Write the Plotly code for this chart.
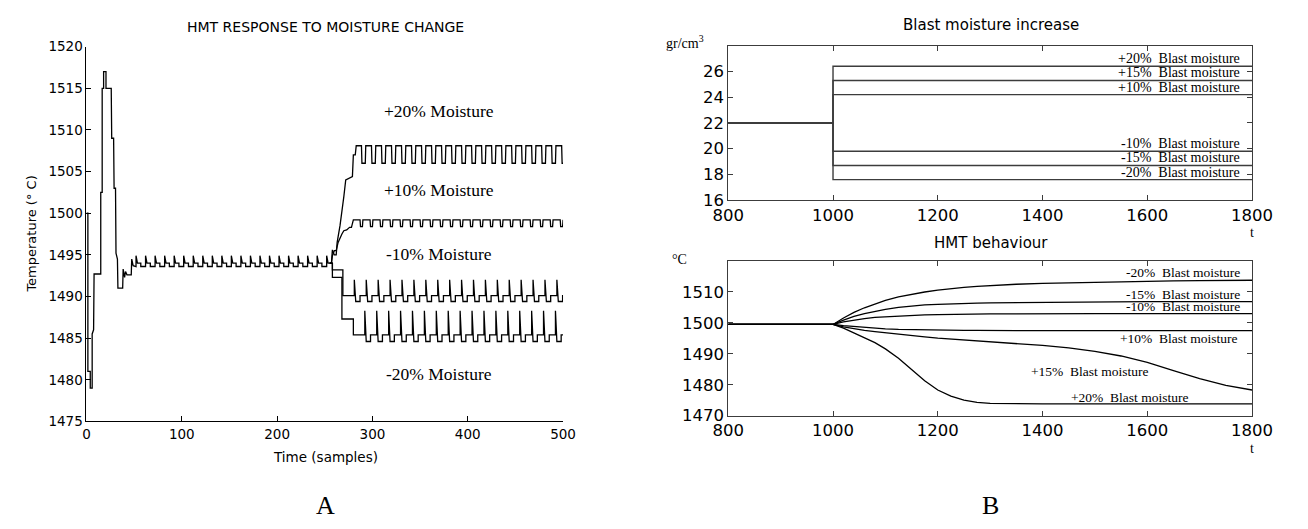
import plotly.graph_objects as go

W, H = 1308, 529

# ---------------- Panel A : HMT response to moisture change ----------------
xticks_a = [0, 100, 200, 300, 400, 500]
yticks_a = [1475, 1480, 1485, 1490, 1495, 1500, 1505, 1510, 1515, 1520]

# common response (samples 0..255)
t_base = [0, 1.5, 1.5, 4, 4, 6, 6, 7.5, 8, 15, 15, 16.5, 16.5, 18, 18, 20.5, 20.5, 26, 26.5,
          28.5, 29, 30.5, 31, 32.5, 33, 38, 38.5, 40, 41, 42.5, 47, 47.5, 49,
          52, 52, 53.5, 57, 57, 62,
          62, 63.5, 67, 67, 72,
          72, 73.5, 77, 77, 82,
          82, 83.5, 87, 87, 92,
          92, 93.5, 97, 97, 102,
          102, 103.5, 107, 107, 112,
          112, 113.5, 117, 117, 122,
          122, 123.5, 127, 127, 132,
          132, 133.5, 137, 137, 142,
          142, 143.5, 147, 147, 152,
          152, 153.5, 157, 157, 162,
          162, 163.5, 167, 167, 172,
          172, 173.5, 177, 177, 182,
          182, 183.5, 187, 187, 192,
          192, 193.5, 197, 197, 202,
          202, 203.5, 207, 207, 212,
          212, 213.5, 217, 217, 222,
          222, 223.5, 227, 227, 232,
          232, 233.5, 237, 237, 242,
          242, 243.5, 247, 247, 252,
          252, 253.5, 255]
temp_base = [1500, 1500, 1481, 1481, 1479, 1479, 1485.5, 1486, 1492.7, 1492.7, 1502.5, 1502.5, 1515, 1515, 1517, 1517, 1515, 1515, 1509,
             1509, 1503, 1503, 1495.2, 1494.5, 1491, 1491, 1493.3, 1492.3, 1493, 1492.6, 1492.6, 1494.5, 1493.7,
             1493.6, 1494.9, 1494.0, 1494.0, 1493.6, 1493.6,
             1494.9, 1494.0, 1494.0, 1493.6, 1493.6,
             1494.9, 1494.0, 1494.0, 1493.6, 1493.6,
             1494.9, 1494.0, 1494.0, 1493.6, 1493.6,
             1494.9, 1494.0, 1494.0, 1493.6, 1493.6,
             1494.9, 1494.0, 1494.0, 1493.6, 1493.6,
             1494.9, 1494.0, 1494.0, 1493.6, 1493.6,
             1494.9, 1494.0, 1494.0, 1493.6, 1493.6,
             1494.9, 1494.0, 1494.0, 1493.6, 1493.6,
             1494.9, 1494.0, 1494.0, 1493.6, 1493.6,
             1494.9, 1494.0, 1494.0, 1493.6, 1493.6,
             1494.9, 1494.0, 1494.0, 1493.6, 1493.6,
             1494.9, 1494.0, 1494.0, 1493.6, 1493.6,
             1494.9, 1494.0, 1494.0, 1493.6, 1493.6,
             1494.9, 1494.0, 1494.0, 1493.6, 1493.6,
             1494.9, 1494.0, 1494.0, 1493.6, 1493.6,
             1494.9, 1494.0, 1494.0, 1493.6, 1493.6,
             1494.9, 1494.0, 1494.0, 1493.6, 1493.6,
             1494.9, 1494.0, 1494.0, 1493.6, 1493.6,
             1494.9, 1494.0, 1494.0, 1493.6, 1493.6,
             1494.9, 1494.0, 1494.0]

# +20% moisture (from sample 255)
t_p20 = [255, 257, 258, 260, 262, 263, 266, 268, 270, 272, 278, 279, 280, 282, 283,
         288.5, 289, 292.5, 293, 299, 299.5, 303, 303.5, 309.5, 310, 313.5, 314,
         320, 320.5, 324, 324.5, 330.5, 331, 334.5, 335, 341, 341.5, 345, 345.5,
         351.5, 352, 355.5, 356, 362, 362.5, 366, 366.5, 372.5, 373, 376.5, 377,
         383, 383.5, 387, 387.5, 393.5, 394, 397.5, 398, 404, 404.5, 408, 408.5,
         414.5, 415, 418.5, 419, 425, 425.5, 429, 429.5, 435.5, 436, 439.5, 440,
         446, 446.5, 450, 450.5, 456.5, 457, 460.5, 461, 467, 467.5, 471, 471.5,
         477.5, 478, 481.5, 482, 488, 488.5, 492, 492.5, 498.5, 499, 500]
temp_p20 = [1494.0, 1494.0, 1495.6, 1495.0, 1495.0, 1496.5, 1498.5, 1500.0, 1502.0, 1504.0, 1504.4, 1504.4, 1507.0, 1507.0, 1508.1,
            1508.1, 1506.0, 1506.0, 1508.1, 1508.1, 1506.0, 1506.0, 1508.1, 1508.1, 1506.0, 1506.0, 1508.1,
            1508.1, 1506.0, 1506.0, 1508.1, 1508.1, 1506.0, 1506.0, 1508.1, 1508.1, 1506.0, 1506.0, 1508.1,
            1508.1, 1506.0, 1506.0, 1508.1, 1508.1, 1506.0, 1506.0, 1508.1, 1508.1, 1506.0, 1506.0, 1508.1,
            1508.1, 1506.0, 1506.0, 1508.1, 1508.1, 1506.0, 1506.0, 1508.1, 1508.1, 1506.0, 1506.0, 1508.1,
            1508.1, 1506.0, 1506.0, 1508.1, 1508.1, 1506.0, 1506.0, 1508.1, 1508.1, 1506.0, 1506.0, 1508.1,
            1508.1, 1506.0, 1506.0, 1508.1, 1508.1, 1506.0, 1506.0, 1508.1, 1508.1, 1506.0, 1506.0, 1508.1,
            1508.1, 1506.0, 1506.0, 1508.1, 1508.1, 1506.0, 1506.0, 1508.1, 1508.1, 1506.0, 1506.0]

# +10% moisture
t_p10 = [255, 257, 258, 260, 262, 264, 268, 270, 273, 276, 278, 280,
         287, 287.5, 289.5, 290, 297.5, 298, 300, 300.5, 308, 308.5, 310.5, 311,
         318.5, 319, 321, 321.5, 329, 329.5, 331.5, 332, 339.5, 340, 342, 342.5,
         350, 350.5, 352.5, 353, 360.5, 361, 363, 363.5, 371, 371.5, 373.5, 374,
         381.5, 382, 384, 384.5, 392, 392.5, 394.5, 395, 402.5, 403, 405, 405.5,
         413, 413.5, 415.5, 416, 423.5, 424, 426, 426.5, 434, 434.5, 436.5, 437,
         444.5, 445, 447, 447.5, 455, 455.5, 457.5, 458, 465.5, 466, 468, 468.5,
         476, 476.5, 478.5, 479, 486.5, 487, 489, 489.5, 497, 497.5, 499.5, 500]
temp_p10 = [1494.0, 1494.0, 1494.9, 1495.5, 1495.5, 1496.5, 1497.5, 1497.9, 1498.0, 1498.3, 1498.3, 1499.2,
            1499.2, 1498.4, 1498.4, 1499.2, 1499.2, 1498.4, 1498.4, 1499.2, 1499.2, 1498.4, 1498.4, 1499.2,
            1499.2, 1498.4, 1498.4, 1499.2, 1499.2, 1498.4, 1498.4, 1499.2, 1499.2, 1498.4, 1498.4, 1499.2,
            1499.2, 1498.4, 1498.4, 1499.2, 1499.2, 1498.4, 1498.4, 1499.2, 1499.2, 1498.4, 1498.4, 1499.2,
            1499.2, 1498.4, 1498.4, 1499.2, 1499.2, 1498.4, 1498.4, 1499.2, 1499.2, 1498.4, 1498.4, 1499.2,
            1499.2, 1498.4, 1498.4, 1499.2, 1499.2, 1498.4, 1498.4, 1499.2, 1499.2, 1498.4, 1498.4, 1499.2,
            1499.2, 1498.4, 1498.4, 1499.2, 1499.2, 1498.4, 1498.4, 1499.2, 1499.2, 1498.4, 1498.4, 1499.2,
            1499.2, 1498.4, 1498.4, 1499.2, 1499.2, 1498.4, 1498.4, 1499.2, 1499.2, 1498.4, 1498.4, 1499.2]

# -10% moisture
t_m10 = [255, 258, 258, 269, 269, 281,
         281, 282.5, 287, 287, 293.5, 293.5, 295, 299.5, 299.5, 306,
         306, 307.5, 312, 312, 318.5, 318.5, 320, 324.5, 324.5, 331,
         331, 332.5, 337, 337, 343.5, 343.5, 345, 349.5, 349.5, 356,
         356, 357.5, 362, 362, 368.5, 368.5, 370, 374.5, 374.5, 381,
         381, 382.5, 387, 387, 393.5, 393.5, 395, 399.5, 399.5, 406,
         406, 407.5, 412, 412, 418.5, 418.5, 420, 424.5, 424.5, 431,
         431, 432.5, 437, 437, 443.5, 443.5, 445, 449.5, 449.5, 456,
         456, 457.5, 462, 462, 468.5, 468.5, 470, 474.5, 474.5, 481,
         481, 482.5, 487, 487, 493.5, 493.5, 495, 499.5, 499.5, 500]
temp_m10 = [1494.0, 1494.0, 1493.2, 1493.2, 1490.1, 1490.1,
            1492.0, 1489.4, 1489.4, 1490.1, 1490.1, 1492.0, 1489.4, 1489.4, 1490.1, 1490.1,
            1492.0, 1489.4, 1489.4, 1490.1, 1490.1, 1492.0, 1489.4, 1489.4, 1490.1, 1490.1,
            1492.0, 1489.4, 1489.4, 1490.1, 1490.1, 1492.0, 1489.4, 1489.4, 1490.1, 1490.1,
            1492.0, 1489.4, 1489.4, 1490.1, 1490.1, 1492.0, 1489.4, 1489.4, 1490.1, 1490.1,
            1492.0, 1489.4, 1489.4, 1490.1, 1490.1, 1492.0, 1489.4, 1489.4, 1490.1, 1490.1,
            1492.0, 1489.4, 1489.4, 1490.1, 1490.1, 1492.0, 1489.4, 1489.4, 1490.1, 1490.1,
            1492.0, 1489.4, 1489.4, 1490.1, 1490.1, 1492.0, 1489.4, 1489.4, 1490.1, 1490.1,
            1492.0, 1489.4, 1489.4, 1490.1, 1490.1, 1492.0, 1489.4, 1489.4, 1490.1, 1490.1,
            1492.0, 1489.4, 1489.4, 1490.1, 1490.1, 1492.0, 1489.4, 1489.4, 1490.1, 1490.1]

# -20% moisture
t_m20 = [255, 258, 258, 268, 268, 280, 280, 292,
         292, 293.5, 298, 298, 304.5, 304.5, 306, 310.5, 310.5, 317,
         317, 318.5, 323, 323, 329.5, 329.5, 331, 335.5, 335.5, 342,
         342, 343.5, 348, 348, 354.5, 354.5, 356, 360.5, 360.5, 367,
         367, 368.5, 373, 373, 379.5, 379.5, 381, 385.5, 385.5, 392,
         392, 393.5, 398, 398, 404.5, 404.5, 406, 410.5, 410.5, 417,
         417, 418.5, 423, 423, 429.5, 429.5, 431, 435.5, 435.5, 442,
         442, 443.5, 448, 448, 454.5, 454.5, 456, 460.5, 460.5, 467,
         467, 468.5, 473, 473, 479.5, 479.5, 481, 485.5, 485.5, 492,
         492, 493.5, 498, 498, 500]
temp_m20 = [1494.0, 1494.0, 1492.3, 1492.3, 1487.3, 1487.3, 1485.4, 1485.4,
            1488.3, 1484.6, 1484.6, 1485.4, 1485.4, 1488.3, 1484.6, 1484.6, 1485.4, 1485.4,
            1488.3, 1484.6, 1484.6, 1485.4, 1485.4, 1488.3, 1484.6, 1484.6, 1485.4, 1485.4,
            1488.3, 1484.6, 1484.6, 1485.4, 1485.4, 1488.3, 1484.6, 1484.6, 1485.4, 1485.4,
            1488.3, 1484.6, 1484.6, 1485.4, 1485.4, 1488.3, 1484.6, 1484.6, 1485.4, 1485.4,
            1488.3, 1484.6, 1484.6, 1485.4, 1485.4, 1488.3, 1484.6, 1484.6, 1485.4, 1485.4,
            1488.3, 1484.6, 1484.6, 1485.4, 1485.4, 1488.3, 1484.6, 1484.6, 1485.4, 1485.4,
            1488.3, 1484.6, 1484.6, 1485.4, 1485.4, 1488.3, 1484.6, 1484.6, 1485.4, 1485.4,
            1488.3, 1484.6, 1484.6, 1485.4, 1485.4, 1488.3, 1484.6, 1484.6, 1485.4, 1485.4,
            1488.3, 1484.6, 1484.6, 1485.4, 1485.4]

labels_a = ["+20% Moisture", "+10% Moisture", "-10% Moisture", "-20% Moisture"]

# ---------------- Panel B (top): blast moisture ----------------
xticks_b = [800, 1000, 1200, 1400, 1600, 1800]
yticks_b1 = [16, 18, 20, 22, 24, 26]
t_blast = [800, 1000, 1000, 1800]
blast_p20 = [22, 22, 26.4, 26.4]
blast_p15 = [22, 22, 25.3, 25.3]
blast_p10 = [22, 22, 24.2, 24.2]
blast_m10 = [22, 22, 19.8, 19.8]
blast_m15 = [22, 22, 18.7, 18.7]
blast_m20 = [22, 22, 17.6, 17.6]
blast_names = ["+20%  Blast moisture", "+15%  Blast moisture", "+10%  Blast moisture",
               "-10%  Blast moisture", "-15%  Blast moisture", "-20%  Blast moisture"]

# ---------------- Panel B (bottom): HMT behaviour ----------------
yticks_b2 = [1470, 1480, 1490, 1500, 1510]
t_hmt = [800, 1000, 1020, 1040, 1060, 1080, 1100, 1125, 1150, 1175, 1200, 1225, 1250, 1275, 1300,
         1350, 1400, 1450, 1500, 1550, 1600, 1650, 1700, 1750, 1800]
hmt_m20 = [1499.5, 1499.5, 1501.6, 1503.4, 1504.9, 1506.2, 1507.3, 1508.4, 1509.3, 1510.0, 1510.6,
           1511.1, 1511.5, 1511.8, 1512.1, 1512.5, 1512.8, 1513.0, 1513.2, 1513.4, 1513.5, 1513.6,
           1513.7, 1513.7, 1513.8]
hmt_m15 = [1499.5, 1499.5, 1500.9, 1502.1, 1503.0, 1503.8, 1504.4, 1505.0, 1505.5, 1505.8, 1506.0,
           1506.2, 1506.3, 1506.4, 1506.5, 1506.6, 1506.7, 1506.8, 1506.8, 1506.9, 1506.9, 1506.9,
           1506.9, 1506.9, 1506.9]
hmt_m10 = [1499.5, 1499.5, 1500.3, 1500.9, 1501.4, 1501.8, 1502.0, 1502.3, 1502.5, 1502.6, 1502.7,
           1502.8, 1502.8, 1502.9, 1502.9, 1502.9, 1503.0, 1503.0, 1503.0, 1503.0, 1503.0, 1503.0,
           1503.0, 1503.0, 1503.0]
hmt_p10 = [1499.5, 1499.5, 1499.1, 1498.8, 1498.5, 1498.3, 1498.1, 1497.9, 1497.8, 1497.7, 1497.7,
           1497.6, 1497.6, 1497.6, 1497.5, 1497.5, 1497.5, 1497.5, 1497.5, 1497.5, 1497.5, 1497.5,
           1497.5, 1497.5, 1497.5]
hmt_p15 = [1499.5, 1499.5, 1498.7, 1498.1, 1497.6, 1497.2, 1496.8, 1496.3, 1495.9, 1495.5, 1495.1,
           1494.8, 1494.5, 1494.2, 1494.0, 1493.4, 1492.7, 1491.9, 1490.8, 1489.3, 1487.2, 1484.6,
           1482.0, 1479.8, 1478.3]
hmt_p20 = [1499.5, 1499.5, 1498.3, 1496.8, 1495.3, 1493.6, 1491.6, 1488.6, 1484.9, 1481.3, 1478.3,
           1476.3, 1475.0, 1474.3, 1474.0, 1473.8, 1473.8, 1473.8, 1473.8, 1473.8, 1473.8, 1473.8,
           1473.8, 1473.8, 1473.8]
hmt_names = ["-20%  Blast moisture", "-15%  Blast moisture", "-10%  Blast moisture",
             "+10%  Blast moisture", "+15%  Blast moisture", "+20%  Blast moisture"]

# ---------------- figure ----------------
SANS = "DejaVu Sans"
SERIF = "Liberation Serif"
GRAY = "#3c3c3c"

fig = go.Figure()

for tx, ty in [(t_base, temp_base), (t_p20, temp_p20), (t_p10, temp_p10),
               (t_m10, temp_m10), (t_m20, temp_m20)]:
    fig.add_trace(go.Scatter(x=tx, y=ty, mode="lines", line=dict(color="black", width=1.3),
                             xaxis="x", yaxis="y", showlegend=False, hoverinfo="skip"))

for ty in [blast_p20, blast_p15, blast_p10, blast_m10, blast_m15, blast_m20]:
    fig.add_trace(go.Scatter(x=t_blast, y=ty, mode="lines", line=dict(color=GRAY, width=1.4),
                             xaxis="x2", yaxis="y2", showlegend=False, hoverinfo="skip"))

for ty in [hmt_m20, hmt_m15, hmt_m10, hmt_p10, hmt_p15, hmt_p20]:
    fig.add_trace(go.Scatter(x=t_hmt, y=ty, mode="lines",
                             line=dict(color="black", width=1.3),
                             xaxis="x3", yaxis="y3", showlegend=False, hoverinfo="skip"))

def px_x(p):
    return p / W

def px_y(p):
    return 1 - p / H

axA = dict(showgrid=False, zeroline=False, ticks="inside", ticklen=5, showline=True,
           linecolor="black", linewidth=1, tickcolor="black", tickwidth=1,
           tickfont=dict(family=SANS, size=13.5, color="black"), mirror=False)
axB = dict(showgrid=False, zeroline=False, ticks="inside", ticklen=5, showline=True,
           linecolor=GRAY, linewidth=1, tickcolor=GRAY, tickwidth=1,
           tickfont=dict(family=SANS, size=16.5, color="black"), mirror="allticks")

fig.update_layout(
    width=W, height=H, margin=dict(l=0, r=0, t=0, b=0),
    paper_bgcolor="white", plot_bgcolor="white", showlegend=False,
    xaxis=dict(axA, domain=[px_x(72.5), px_x(563)], range=[0, 500], tickvals=xticks_a, anchor="y"),
    yaxis=dict(axA, domain=[px_y(428), px_y(40)], range=[1475, 1520], tickvals=yticks_a, anchor="x"),
    xaxis2=dict(axB, domain=[px_x(733), px_x(1272)], range=[800, 1800], tickvals=xticks_b, anchor="y2"),
    yaxis2=dict(axB, domain=[px_y(199), px_y(39)], range=[16, 28], tickvals=yticks_b1, anchor="x2"),
    xaxis3=dict(axB, domain=[px_x(733), px_x(1272)], range=[800, 1800], tickvals=xticks_b, anchor="y3"),
    yaxis3=dict(axB, domain=[px_y(422), px_y(262)], range=[1470, 1520], tickvals=yticks_b2, anchor="x3"),
)

ann = []
def paper_text(text, x, y, family, size, angle=0):
    ann.append(dict(text=text, x=px_x(x), y=px_y(y), xref="paper", yref="paper",
                    showarrow=False, textangle=angle, xanchor="center", yanchor="middle",
                    font=dict(family=family, size=size, color="black")))

paper_text("HMT RESPONSE TO MOISTURE CHANGE", 318, 20, SANS, 14)
paper_text("Temperature (° C)", 15, 234, SANS, 13, angle=-90)
paper_text("Time (samples)", 318, 465, SANS, 13.5)
paper_text("A", 318, 515, SERIF, 26)
for lab, yy in zip(labels_a, [107, 188, 255, 379]):
    paper_text(lab, 435, yy, SERIF, 17.5)

paper_text("Blast moisture increase", 1003, 18, SANS, 15)
paper_text("HMT behaviour", 1003, 243, SANS, 15)
paper_text("gr/cm<sup>3</sup>", 688, 35, SERIF, 14)
paper_text("°C", 683, 260, SERIF, 14)
paper_text("t", 1272, 232, SERIF, 14)
paper_text("t", 1272, 456, SERIF, 14)
paper_text("B", 1003, 515, SERIF, 26)

for name, ty in zip(blast_names, [blast_p20, blast_p15, blast_p10, blast_m10, blast_m15, blast_m20]):
    ann.append(dict(text=name.replace("  ", "\u00a0 "), x=1781, y=ty[-1], xref="x2", yref="y2",
                    showarrow=False, xanchor="right", yanchor="bottom", yshift=-2,
                    font=dict(family=SERIF, size=14, color="black")))

hmt_label_pos = [(1781, hmt_m20[-1], "right", "bottom"),
                 (1781, hmt_m15[-1], "right", "bottom"),
                 (1781, hmt_m10[-1], "right", "bottom"),
                 (1776, hmt_p10[-1], "right", "top"),
                 (1490, 1484.2, "center", "middle"),
                 (1566, 1475.9, "center", "middle")]
for name, (lx, ly, xa, ya) in zip(hmt_names, hmt_label_pos):
    ann.append(dict(text=name.replace("  ", "\u00a0 "), x=lx, y=ly, xref="x3", yref="y3",
                    showarrow=False, xanchor=xa, yanchor=ya,
                    yshift=(-2 if ya == "bottom" else (2 if ya == "top" else 0)),
                    font=dict(family=SERIF, size=13.5, color="black")))

fig.update_layout(annotations=ann)

fig.write_html("out.html", config={"displayModeBar": False},
               post_script="document.body.style.margin='0px';")
